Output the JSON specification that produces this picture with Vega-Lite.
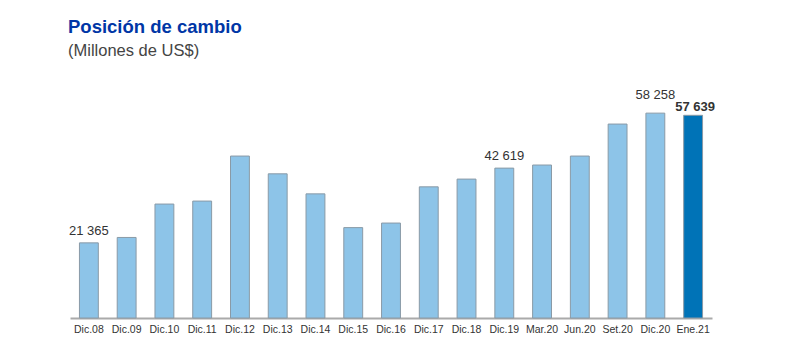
{
  "$schema": "https://vega.github.io/schema/vega-lite/v6.json",
  "width": 642,
  "height": 211,
  "autosize": {"type": "none"},
  "padding": {"left": 70, "top": 107, "right": 88, "bottom": 46},
  "background": "white",
  "config": {
    "view": {"stroke": null},
    "locale": {"number": {"decimal": ",", "thousands": " ", "grouping": [3], "currency": ["", ""]}}
  },
  "title": {
    "text": "Posición de cambio",
    "subtitle": "(Millones de US$)",
    "anchor": "start",
    "frame": "group",
    "font": "Liberation Sans",
    "fontSize": 18.5,
    "fontWeight": "bold",
    "color": "#0036A6",
    "subtitleFont": "Liberation Sans",
    "subtitleFontSize": 16.5,
    "subtitleColor": "#444444",
    "subtitlePadding": 6,
    "offset": 30,
    "dx": -2
  },
  "data": {
    "values": [
      {"periodo": "Dic.08", "valor": 21365, "tipo": "hist", "etiqueta": "a"},
      {"periodo": "Dic.09", "valor": 22900, "tipo": "hist", "etiqueta": ""},
      {"periodo": "Dic.10", "valor": 32400, "tipo": "hist", "etiqueta": ""},
      {"periodo": "Dic.11", "valor": 33250, "tipo": "hist", "etiqueta": ""},
      {"periodo": "Dic.12", "valor": 46050, "tipo": "hist", "etiqueta": ""},
      {"periodo": "Dic.13", "valor": 41000, "tipo": "hist", "etiqueta": ""},
      {"periodo": "Dic.14", "valor": 35300, "tipo": "hist", "etiqueta": ""},
      {"periodo": "Dic.15", "valor": 25700, "tipo": "hist", "etiqueta": ""},
      {"periodo": "Dic.16", "valor": 27000, "tipo": "hist", "etiqueta": ""},
      {"periodo": "Dic.17", "valor": 37300, "tipo": "hist", "etiqueta": ""},
      {"periodo": "Dic.18", "valor": 39500, "tipo": "hist", "etiqueta": ""},
      {"periodo": "Dic.19", "valor": 42619, "tipo": "hist", "etiqueta": "a"},
      {"periodo": "Mar.20", "valor": 43500, "tipo": "hist", "etiqueta": ""},
      {"periodo": "Jun.20", "valor": 46050, "tipo": "hist", "etiqueta": ""},
      {"periodo": "Set.20", "valor": 55150, "tipo": "hist", "etiqueta": ""},
      {"periodo": "Dic.20", "valor": 58258, "tipo": "hist", "etiqueta": "b"},
      {"periodo": "Ene.21", "valor": 57639, "tipo": "actual", "etiqueta": "c"}
    ]
  },
  "encoding": {
    "x": {
      "field": "periodo",
      "type": "nominal",
      "sort": null,
      "scale": {"paddingInner": 0.5, "paddingOuter": 0.25},
      "axis": {
        "title": null,
        "labelAngle": 0,
        "labelFont": "Liberation Sans",
        "labelFontSize": 10.5,
        "labelColor": "#333333",
        "labelPadding": 6,
        "ticks": false,
        "domainColor": "#aaaaaa",
        "domainWidth": 2
      }
    },
    "y": {
      "field": "valor",
      "type": "quantitative",
      "scale": {"domain": [0, 60000], "nice": false},
      "axis": null
    }
  },
  "layer": [
    {
      "mark": {"type": "bar", "stroke": "#8a9aa6", "strokeWidth": 1},
      "encoding": {
        "color": {
          "field": "tipo",
          "type": "nominal",
          "scale": {"domain": ["hist", "actual"], "range": ["#8DC4E8", "#0073B7"]},
          "legend": null
        }
      }
    },
    {
      "transform": [{"filter": "datum.etiqueta == 'a'"}],
      "mark": {"type": "text", "baseline": "alphabetic", "dy": -8, "font": "Liberation Sans", "fontSize": 13, "color": "#333333"},
      "encoding": {"text": {"field": "valor", "type": "quantitative", "format": ","}}
    },
    {
      "transform": [{"filter": "datum.etiqueta == 'b'"}],
      "mark": {"type": "text", "baseline": "alphabetic", "dy": -14, "font": "Liberation Sans", "fontSize": 13, "color": "#333333"},
      "encoding": {"text": {"field": "valor", "type": "quantitative", "format": ","}}
    },
    {
      "transform": [{"filter": "datum.etiqueta == 'c'"}],
      "mark": {"type": "text", "baseline": "alphabetic", "dy": -4, "dx": 2, "font": "Liberation Sans", "fontSize": 13, "fontWeight": "bold", "color": "#333333"},
      "encoding": {"text": {"field": "valor", "type": "quantitative", "format": ","}}
    }
  ]
}
